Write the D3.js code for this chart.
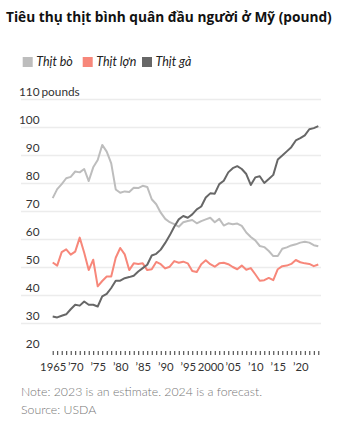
<!DOCTYPE html>
<html><head><meta charset="utf-8">
<script src="https://cdn.jsdelivr.net/npm/d3@7"></script>
<style>
html,body{margin:0;padding:0;background:#fff;}
svg{display:block;}
text{font-family:Lato,"Liberation Sans",sans-serif;}
</style></head>
<body><svg id="c" width="341" height="439"></svg>
<script>
const years = d3.range(1965, 2025);
const beef = [74.6,77.8,79.6,81.7,82.2,84.1,83.8,85.0,80.7,85.6,88.2,93.6,91.2,87.0,77.7,76.5,77.0,76.8,78.3,78.2,79.0,78.6,74.2,72.4,69.4,67.2,66.0,65.3,64.4,66.0,66.4,66.8,65.6,66.4,67.0,67.6,66.0,67.2,64.8,65.6,65.3,65.5,64.7,62.3,60.7,59.5,57.5,57.1,55.7,53.9,53.9,56.5,57.0,57.7,58.1,58.7,59.0,58.7,57.8,57.4];
const pork = [51.6,50.5,55.3,56.3,54.4,55.5,60.5,55.1,48.9,52.6,43.1,45.0,46.6,46.6,53.3,56.8,54.5,48.9,51.3,51.1,51.3,48.9,49.2,51.8,51.0,49.5,50.1,52.1,51.5,51.9,51.3,48.6,48.2,51.0,52.4,51.0,50.1,51.3,51.5,51.0,50.0,49.2,50.5,49.0,49.6,47.4,45.1,45.3,46.1,45.3,49.2,50.3,50.5,51.1,52.5,51.7,51.3,51.1,50.3,50.9];
const chicken = [32.3,32.0,32.6,33.1,34.9,36.5,36.2,37.7,36.5,36.5,35.9,39.5,40.4,42.5,45.1,45.1,46.0,46.4,46.9,48.4,49.6,50.8,54.1,54.7,56.2,58.6,61.3,64.4,67.0,68.2,67.6,68.8,70.6,71.6,74.8,76.3,76.2,79.6,80.8,83.8,85.3,86.0,85.0,83.2,79.3,82.0,82.4,80.0,81.4,82.9,88.4,89.8,91.3,92.8,95.2,96.0,97.0,99.2,99.6,100.3];
const seriesNames = ["Thịt bò","Thịt lợn","Thịt gà"];
const seriesColors = ["#bdbdbd","#f7877a","#676767"];
const yTicks = [20,30,40,50,60,70,80,90,100,110];
const xLabelYears = [1965,1970,1975,1980,1985,1990,1995,2000,2005,2010,2015,2020];
const title = "Tiêu thụ thịt bình quân đầu người ở Mỹ (pound)";
const notes = ["Note: 2023 is an estimate. 2024 is a forecast.","Source: USDA"];

const svg = d3.select("#c");
svg.append("rect").attr("width",341).attr("height",439).attr("fill","#fff");

const x = d3.scaleLinear().domain([1965,2024]).range([52.7,318.3]);
const y = d3.scaleLinear().domain([20,110]).range([351,99]);

svg.append("text").attr("x",6).attr("y",22)
  .style("font-family","'Open Sans',sans-serif").style("font-weight","700").style("font-size","13.7px")
  .attr("fill","#111").text(title);

// legend
const lg = svg.append("g");
const legX = [22.7,82.7,142];
seriesNames.forEach((n,i)=>{
  lg.append("rect").attr("x",legX[i]).attr("y",57).attr("width",10).attr("height",10).attr("fill",seriesColors[i]);
  lg.append("text").attr("x",legX[i]+13.5).attr("y",66).style("font-style","italic").style("font-size","12.5px")
    .attr("fill","#222").text(n);
});

// gridlines
const grid = svg.append("g").attr("transform","translate(21,0)")
  .call(d3.axisRight(y).tickValues(yTicks.filter(v=>v>20)).tickSize(300).tickFormat(""));
grid.select(".domain").remove();
grid.selectAll("line").attr("stroke","#ececec").attr("stroke-width",1.6);

// y labels
const ya = svg.append("g").attr("transform","translate(39.5,0)")
  .call(d3.axisLeft(y).tickValues(yTicks).tickSize(0).tickPadding(0));
ya.select(".domain").remove();
ya.selectAll("text").attr("dy","-3.5").attr("fill","#333").style("font-size","11.8px").style("font-family","Lato,sans-serif");
svg.append("text").attr("x",41.5).attr("y",y(110)-3.5).attr("fill","#333").style("font-size","11.8px").text("pounds");

// x axis
const xa = svg.append("g").attr("transform",`translate(0,${y(20)})`)
  .call(d3.axisBottom(x).tickValues(years).tickSize(4).tickPadding(7.5)
    .tickFormat(d=> xLabelYears.includes(d) ? (d===1965||d===2000 ? String(d) : "\u2019"+String(d).slice(2)) : ""));
xa.select(".domain").remove();
xa.selectAll("line").attr("stroke","#333");
xa.selectAll("text").attr("fill","#333").style("font-size","11.3px").style("font-family","Lato,sans-serif");

// lines
const line = d3.line().x((d,i)=>x(years[i])).y(d=>y(d));
[beef,pork,chicken].forEach((s,i)=>{
  svg.append("path").datum(s).attr("d",line).attr("fill","none")
    .attr("stroke",seriesColors[i]).attr("stroke-width",2).attr("stroke-linejoin","round");
});

// notes
notes.forEach((t,i)=>{
  svg.append("text").attr("x",21).attr("y",396+i*18).attr("fill","#777").style("font-size","12.3px")
    .style("font-weight","300").text(t);
});
</script></body></html>
